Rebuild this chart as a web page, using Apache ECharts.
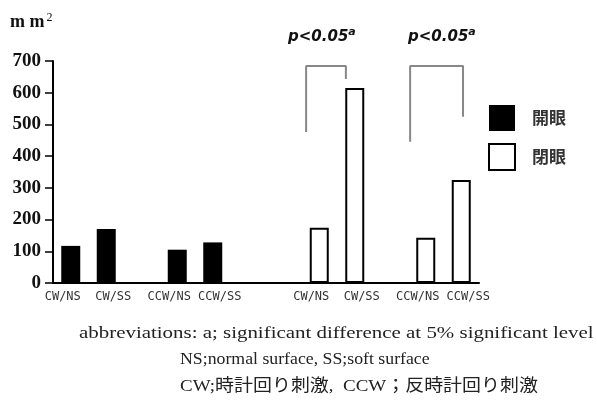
<!DOCTYPE html>
<html>
<head>
<meta charset="utf-8">
<script src="https://cdn.jsdelivr.net/npm/echarts@6/dist/echarts.min.js"></script>
<style>html,body{margin:0;padding:0;background:#fff}#c{width:597px;height:409px}</style>
</head>
<body>
<div id="c"></div>
<script>
const categories = ['CW/NS','CW/SS','','CCW/NS','CCW/SS','','','CW/NS','CW/SS','','CCW/NS','CCW/SS'];
const openEyes = [117,170,null,105,128,null,null,null,null,null,null,null];
const closedEyes = [null,null,null,null,null,null,null,174,615,null,143,325];
const yTicks = {min:0, max:700, interval:100};
const seriesNames = ['開眼','閉眼'];
const bracket1 = [[7.13,476],[7.13,684],[8.25,684],[8.25,643]];
const bracket2 = [[10.06,445],[10.06,684],[11.55,684],[11.55,524]];
const notes = [
  'abbreviations: a; significant difference at 5% significant level',
  'NS;normal surface, SS;soft surface',
  'CW;時計回り刺激,  CCW；反時計回り刺激'
];

const chart = echarts.init(document.getElementById('c'));
const serif = '"Liberation Serif","DejaVu Serif",serif';
const jp = '"Liberation Serif","Noto Sans CJK JP",serif';
const mono = '"DejaVu Sans Mono","Liberation Mono",monospace';
const pRich = {
  p:{fontSize:15, fontWeight:'bold', fontStyle:'italic', fontFamily:'"DejaVu Sans",sans-serif', fill:'#111'},
  a:{fontSize:11, fontWeight:'bold', fontStyle:'italic', fontFamily:'"DejaVu Sans",sans-serif', fill:'#111', padding:[0,0,9,0]}
};
chart.setOption({
  animation:false,
  backgroundColor:'#fff',
  grid:{left:53,right:118,top:61,bottom:126},
  legend:{
    orient:'vertical', left:483, top:100, itemWidth:26, itemHeight:26, itemGap:12, icon:'rect',
    data:seriesNames,
    textStyle:{fontSize:17, color:'#333', fontWeight:'bold', fontFamily:'"Noto Sans CJK JP",sans-serif', padding:[0,0,0,12]}
  },
  xAxis:[{
    type:'category', data:categories,
    axisLine:{lineStyle:{color:'#000', width:2}},
    axisTick:{length:4, lineStyle:{color:'#000', width:1.5}},
    axisLabel:{
      interval:0, margin:8, color:'#333', fontSize:12, fontFamily:mono,
      formatter:function(v){ if(!v) return ''; return /NS$/.test(v) ? '{l|'+v+'}' : '{r|'+v+'}'; },
      rich:{
        l:{fontSize:12, color:'#333', fontFamily:mono, padding:[0,16,0,0]},
        r:{fontSize:12, color:'#333', fontFamily:mono, padding:[0,0,0,14]}
      }
    }
  },{
    type:'value', min:0, max:12, show:false
  }],
  yAxis:{
    type:'value', min:yTicks.min, max:yTicks.max, interval:yTicks.interval,
    axisLine:{show:true, lineStyle:{color:'#000', width:2}},
    axisTick:{show:true, length:8, lineStyle:{color:'#000', width:1.5}},
    splitLine:{show:false},
    axisLabel:{margin:12, color:'#111', fontSize:19, fontWeight:'bold', fontFamily:serif}
  },
  series:[
    {name:seriesNames[0], type:'bar', data:openEyes, barWidth:19, barGap:'-100%',
     itemStyle:{color:'#000'}},
    {name:seriesNames[1], type:'bar', data:closedEyes, barWidth:19, barGap:'-100%',
     itemStyle:{color:'#fff', borderColor:'#000', borderWidth:2}},
    {type:'line', xAxisIndex:1, data:bracket1, symbol:'none', silent:true,
     lineStyle:{color:'#888', width:2}},
    {type:'line', xAxisIndex:1, data:bracket2, symbol:'none', silent:true,
     lineStyle:{color:'#888', width:2}}
  ],
  graphic:[
    {type:'text', left:10, top:12, style:{text:'{m|m m}{s|2}', rich:{
      m:{fontSize:18, fontWeight:'bold', fontFamily:serif, fill:'#111'},
      s:{fontSize:12, fontFamily:serif, fill:'#111', padding:[0,0,9,2]}}}},
    {type:'text', left:288, top:27, style:{text:'{p|p<0.05}{a|a}', rich:pRich}},
    {type:'text', left:408, top:27, style:{text:'{p|p<0.05}{a|a}', rich:pRich}},
    {type:'text', x:79, y:325, scaleX:1.23, style:{text:notes[0], font:'17px '+serif, fill:'#222', verticalAlign:'top'}},
    {type:'text', x:180, y:351, scaleX:1.045, style:{text:notes[1], font:'17px '+serif, fill:'#222', verticalAlign:'top'}},
    {type:'text', x:180, y:378, scaleX:1.115, style:{text:notes[2], font:'17px '+jp, fill:'#222', verticalAlign:'top'}}
  ]
});
</script>
</body>
</html>
